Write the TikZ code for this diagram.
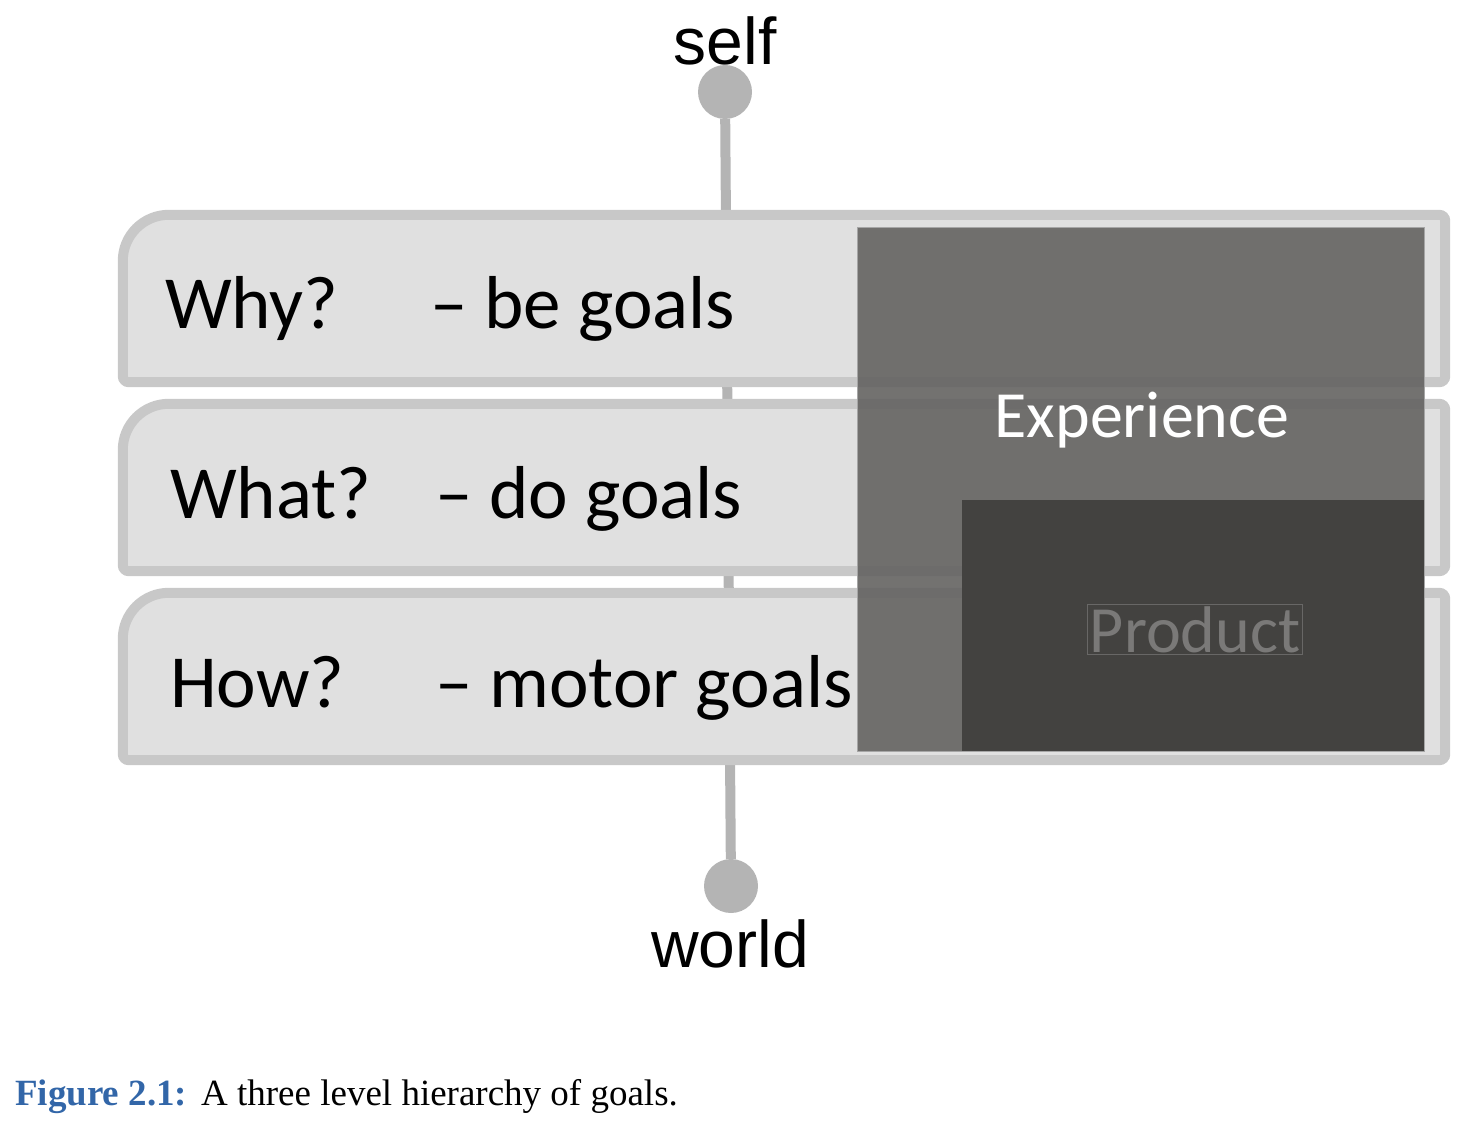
\documentclass[tikz,border=0pt]{standalone}
\usepackage{fontspec}
\setmainfont{Liberation Serif}
\newfontfamily\calibri{Carlito}
\newfontfamily\arial{Liberation Sans}
\usetikzlibrary{positioning,calc}
\definecolor{gbfill}{HTML}{E0E0E0}
\definecolor{gbline}{HTML}{C8C8C8}
\definecolor{gbstem}{HTML}{B4B4B4}
\definecolor{gbexp}{HTML}{646361}
\definecolor{gbprod}{HTML}{434240}
\definecolor{gbprodtext}{HTML}{7A7978}
\definecolor{gbcap}{HTML}{3266A8}
\tikzset{
  rowbox/.style={rectangle,minimum width=1322pt,minimum height=167pt,inner sep=0pt},
  rowline/.style={draw=gbline,fill=gbfill,line width=10pt},
  stem/.style={draw=gbstem,line width=10pt},
  enddot/.style={circle,fill=gbstem,minimum size=54pt,inner sep=0pt},
  goal/.style={anchor=base west,inner sep=0pt,font=\calibri\fontsize{75}{90}\selectfont},
  pole/.style={anchor=base,inner sep=0pt,font=\arial\fontsize{66}{80}\selectfont},
  layer/.style={rectangle,inner sep=0pt,draw=gray!70,line width=1pt},
  layerlabel/.style={anchor=base,inner sep=0pt,font=\calibri\fontsize{66}{80}\selectfont},
}

\begin{document}
\begin{tikzpicture}[x=1pt,y=-1pt]
  \useasboundingbox (0,0) rectangle (1470,1142);
  % self / world axis
  \node[enddot] (selfdot) at (725,92) {};
  \node[enddot] (worlddot) at (731,886) {};
  \node[pole] (self) at (725,65) {self};
  \node[pole] (world) at (730,967) {world};
  \draw[stem] (selfdot) -- (worlddot);
  % goal levels
  \foreach \i/\y in {1/298.5, 2/487.5, 3/676.5} {
    \node[rowbox] (row\i) at (784,\y) {};
    \path[rowline] (row\i.west) [rounded corners=46pt] |- (row\i.north)
      [rounded corners=6pt] -| (row\i.south east) -- (row\i.south west) -- cycle;
  }
  \node[goal] (why)  at (165,328) {Why?};
  \node[goal] (be)   at (430,328) {– be goals};
  \node[goal] (what) at (170,518) {What?};
  \node[goal] (do)   at (435,518) {– do goals};
  \node[goal] (how)  at (170,707) {How?};
  \node[goal] (motor) at (435,707) {– motor goals};
  % experience and product
  \node[layer,fill=gbexp,fill opacity=0.9,minimum width=567pt,minimum height=523pt]
    (exp) at (1140.5,489.5) {};
  \node[layer,draw=none,fill=gbprod,minimum width=462pt,minimum height=251pt]
    (prod) at (1193,625.5) {};
  \node[layerlabel,text=white] (explabel) at (1142,437) {Experience};
  \node[layerlabel,text=gbprodtext,draw=gbprodtext!85!black,line width=1pt,inner sep=2pt]
    (prodlabel) at (1195,652) {Product};
  % caption
  \node[anchor=base west,inner sep=0pt,font=\fontsize{37}{44}\selectfont] (caption) at (15,1105)
    {\textcolor{gbcap}{\textbf{Figure 2.1:}}\hspace{14pt}A three level hierarchy of goals.};
\end{tikzpicture}
\end{document}
